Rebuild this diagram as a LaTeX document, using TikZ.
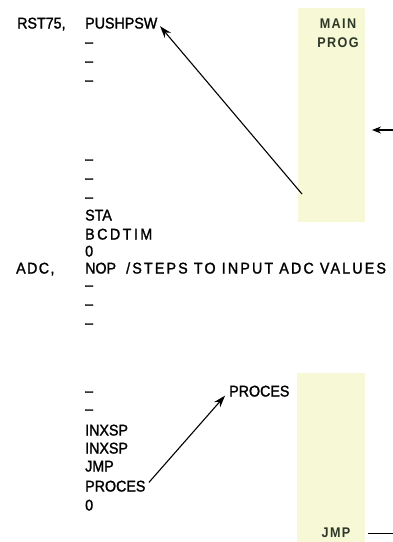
\documentclass[tikz,border=0pt]{standalone}
\usepackage{fontspec}
\setmainfont{Liberation Sans}
\newfontfamily\lstfont[FakeStretch=0.92,FakeBold=1.5]{Liberation Sans}
\newfontfamily\bandfont[FakeStretch=0.9,LetterSpace=10]{Liberation Sans Bold}
\usetikzlibrary{arrows.meta}
\definecolor{bandyellow}{RGB}{246,248,214}
\definecolor{bandtext}{RGB}{45,56,40}
\tikzset{
  code/.style={anchor=base west,inner sep=0pt,font=\lstfont\fontsize{15.5}{18}\selectfont},
  bandlbl/.style={anchor=base,inner sep=0pt,text=bandtext,font=\bandfont\fontsize{14}{16}\selectfont},
  band/.style={fill=bandyellow,draw=none},
  ptr/.style={line width=1.1pt,-{Stealth[length=12pt,width=8pt]}},
}
\begin{document}
\begin{tikzpicture}[x=1pt,y=-1pt]
\useasboundingbox (0,0) rectangle (393,542);
% yellow program bands
\path[band] (298,8) rectangle (365,222);
\path[band] (297,373) rectangle (365,542);
\node[bandlbl] (main) at (338,28) {MAIN};
\node[bandlbl] (prog) at (338,47.5) {PROG};
\node[bandlbl] (jmpb) at (336,537) {JMP};
% listing
\node[code] (rst) at (17,28.5) {RST75,};
\node[code] (push) at (85,28.5) {PUSHPSW};
\node[code] (d1) at (85,47) {–};
\node[code] (d2) at (85,66) {–};
\node[code] (d3) at (85,85) {–};
\node[code] (d4) at (85,164) {–};
\node[code] (d5) at (85,183) {–};
\node[code] (d6) at (85,202) {–};
\node[code] (sta) at (85,220.5) {STA};
\node[code] (bcd) at (85,239.5) {\addfontfeature{LetterSpace=16}BCDTIM};
\node[code] (z1) at (85,256.5) {0};
\node[code] (adc) at (16,273.5) {\addfontfeature{LetterSpace=9}ADC,};
\node[code] (nop) at (85,273.5) {NOP};
\node[code] (cmt) at (126,273.5) {\addfontfeature{LetterSpace=14}/STEPS TO INPUT ADC VALUES};
\node[code] (d7) at (85,290) {–};
\node[code] (d8) at (85,309) {–};
\node[code] (d9) at (85,328) {–};
\node[code] (d10) at (85,396) {–};
\node[code] (d11) at (85,414) {–};
\node[code] (inx1) at (85,435.5) {INXSP};
\node[code] (inx2) at (85,453.5) {INXSP};
\node[code] (jmpl) at (85,471.5) {JMP};
\node[code] (procl) at (85,491.5) {PROCES};
\node[code] (z2) at (85,510.5) {0};
\node[code] (procr) at (229,396.5) {PROCES};
% connectors
\coordinate (tail1) at (302,194);
\draw[ptr,shorten >=4pt] (tail1) -- (push.east);
\draw[ptr,shorten <=5pt,shorten >=6pt] (procl.east) -- (procr.west);
\coordinate (rin) at (393,130);
\coordinate (rtip) at (372,130);
\draw[line width=1.2pt,-{Stealth[length=9pt,width=7pt]}] (rin) -- (rtip);
\coordinate (jin) at (393,533);
\coordinate (jout) at (368,533);
\draw[line width=1pt] (jin) -- (jout);
\end{tikzpicture}
\end{document}
